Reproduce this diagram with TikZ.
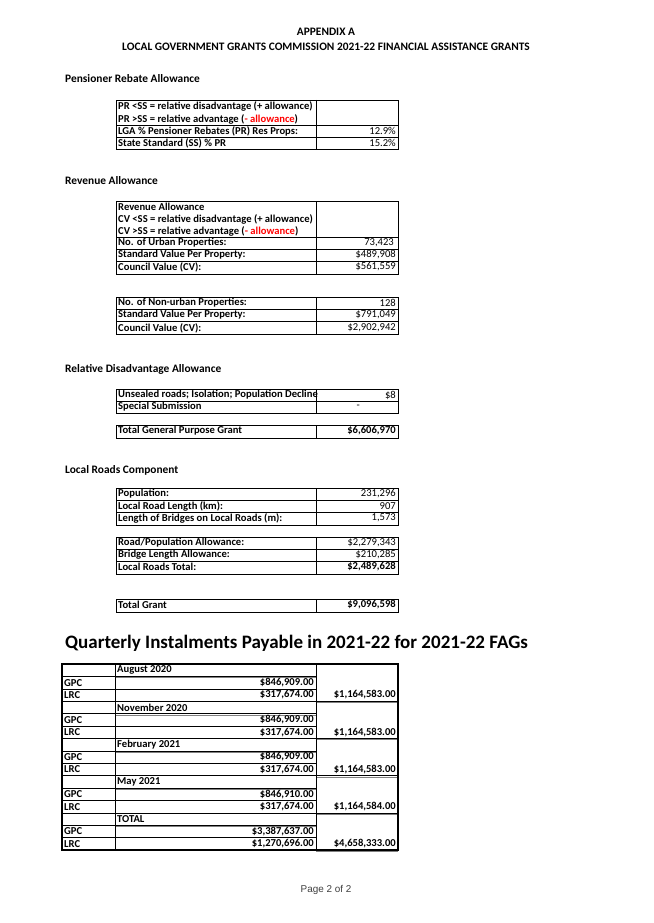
\documentclass[tikz,border=0pt]{standalone}
\usepackage{fontspec}
\setmainfont{Carlito}
\newfontfamily\arialf{Liberation Sans}
\begin{document}
\begin{tikzpicture}[x=1pt,y=-1pt,
  lab/.style={anchor=west,font=\fontsize{10.6}{11}\selectfont\bfseries,inner sep=0pt},
  val/.style={anchor=east,font=\fontsize{10.6}{11}\selectfont,inner sep=0pt},
  bval/.style={val,font=\fontsize{10.6}{11}\selectfont\bfseries},
  head/.style={anchor=west,font=\fontsize{11.4}{12}\selectfont\bfseries,inner sep=0pt},
  grid/.style={line width=0.6pt}]
\useasboundingbox[fill=white] (0,0) rectangle (653,923);
\node[font=\fontsize{11.4}{12}\selectfont\bfseries] (t1) at (326,32) {APPENDIX A};
\node[font=\fontsize{11.4}{12}\selectfont\bfseries] (t2) at (326,47) {LOCAL GOVERNMENT GRANTS COMMISSION 2021-22 FINANCIAL ASSISTANCE GRANTS};
% Pensioner
\node[head] (h1) at (65,79) {Pensioner Rebate Allowance};
\draw[grid] (116,100) rectangle (398,149) (316,100)--(316,149) (116,125)--(398,125) (116,137)--(398,137);
\node[lab] (p1) at (118,106) {PR <SS = relative disadvantage (+ allowance)};
\node[lab] (p2) at (118,119) {PR >SS = relative advantage (\textcolor{red}{- allowance})};
\node[lab] (p3) at (118,131) {LGA \% Pensioner Rebates (PR) Res Props:};
\node[val] (p3v) at (396,131) {12.9\%};
\node[lab] (p4) at (118,143) {State Standard (SS) \% PR};
\node[val] (p4v) at (396,143) {15.2\%};
% Revenue
\node[head] (h2) at (65,181) {Revenue Allowance};
\draw[grid] (116,201) rectangle (398,274) (316,201)--(316,274) (116,237)--(398,237) (116,249)--(398,249) (116,261)--(398,261);
\node[lab] (r1) at (118,207) {Revenue Allowance};
\node[lab] (r2) at (118,219) {CV <SS = relative disadvantage (+ allowance)};
\node[lab] (r3) at (118,231) {CV >SS = relative advantage (\textcolor{red}{- allowance})};
\node[lab] (r4) at (118,243) {No. of Urban Properties:};
\node[val] (r4v) at (394,243) {73,423};
\node[lab] (r5) at (118,255) {Standard Value Per Property:};
\node[val] (r5v) at (396,255) {\$489,908};
\node[lab] (r6) at (118,267) {Council Value (CV):};
\node[val] (r6v) at (396,267) {\$561,559};
\draw[grid] (116,297) rectangle (398,334) (316,297)--(316,334) (116,309)--(398,309) (116,321)--(398,321);
\node[lab] (n1) at (118,303) {No. of Non-urban Properties:};
\node[val] (n1v) at (396,303) {128};
\node[lab] (n2) at (118,315) {Standard Value Per Property:};
\node[val] (n2v) at (396,315) {\$791,049};
\node[lab] (n3) at (118,328) {Council Value (CV):};
\node[val] (n3v) at (396,328) {\$2,902,942};
% Relative disadvantage
\node[head] (h3) at (65,369) {Relative Disadvantage Allowance};
\draw[grid] (116,389) rectangle (398,413) (316,389)--(316,413) (116,401)--(398,401);
\node[lab] (d1) at (118,395) {Unsealed roads; Isolation; Population Decline};
\node[val] (d1v) at (396,395) {\$8};
\node[lab] (d2) at (118,407) {Special Submission};
\node[val] (d2v) at (360,407) {-};
\draw[grid] (116,425) rectangle (398,438) (316,425)--(316,438);
\draw[line width=1pt] (316,438)--(398,438);
\node[lab] (g1) at (118,431) {Total General Purpose Grant};
\node[bval] (g1v) at (396,431) {\$6,606,970};
% Local roads
\node[head] (h4) at (65,470) {Local Roads Component};
\draw[grid] (116,488) rectangle (398,525) (316,488)--(316,525) (116,500)--(398,500) (116,512)--(398,512);
\node[lab] (l1) at (118,494) {Population:};
\node[val] (l1v) at (396,494) {231,296};
\node[lab] (l2) at (118,506) {Local Road Length (km):};
\node[val] (l2v) at (396,506) {907};
\node[lab] (l3) at (118,518) {Length of Bridges on Local Roads (m):};
\node[val] (l3v) at (396,518) {1,573};
\draw[grid] (116,537) rectangle (398,574) (316,537)--(316,574) (116,549)--(398,549) (116,561)--(398,561);
\draw[line width=1pt] (316,574)--(398,574);
\node[lab] (l4) at (118,543) {Road/Population Allowance:};
\node[val] (l4v) at (396,543) {\$2,279,343};
\node[lab] (l5) at (118,555) {Bridge Length Allowance:};
\node[val] (l5v) at (396,555) {\$210,285};
\node[lab] (l6) at (118,567) {Local Roads Total:};
\node[bval] (l6v) at (396,567) {\$2,489,628};
\draw[grid] (116,599) rectangle (398,612) (316,599)--(316,612);
\draw[line width=1pt] (316,612)--(398,612);
\node[lab] (tg) at (118,605) {Total Grant};
\node[bval] (tgv) at (396,605) {\$9,096,598};
% Quarterly
\node[anchor=west,font=\fontsize{19}{21}\selectfont\bfseries,inner sep=0pt] (h5) at (65,643) {Quarterly Instalments Payable in 2021-22 for 2021-22 FAGs};
\foreach \i/\m/\g/\l/\t in {0/August 2020/{846,909.00}/{317,674.00}/{1,164,583.00},
  1/November 2020/{846,909.00}/{317,674.00}/{1,164,583.00},
  2/February 2021/{846,909.00}/{317,674.00}/{1,164,583.00},
  3/May 2021/{846,910.00}/{317,674.00}/{1,164,584.00},
  4/TOTAL/{3,387,637.00}/{1,270,696.00}/{4,658,333.00}}{
  \pgfmathsetmacro\yy{664+\i*37.2}
  \draw[grid] (62,\yy)--(398,\yy);
  \draw[grid] (62,\yy+12.4)--(316,\yy+12.4) (62,\yy+24.8)--(316,\yy+24.8);
  \draw[line width=0.4pt,gray] (115,\yy+13.6)--(316,\yy+13.6);
  \node[lab] (m\i) at (117,\yy+6.2) {\m};
  \node[lab] (gp\i) at (64,\yy+18.6) {GPC};
  \node[bval] (gv\i) at (314,\yy+18.6) {\$\g};
  \node[lab] (lr\i) at (64,\yy+31) {LRC};
  \node[bval] (lv\i) at (314,\yy+31) {\$\l};
  \node[bval] (tv\i) at (396,\yy+31) {\$\t};
  \draw[line width=0.4pt,gray] (316,\yy+38.4)--(398,\yy+38.4);
}
\draw[grid] (115,664)--(115,850) (316,664)--(316,850);
\draw[line width=1.4pt] (62,664) rectangle (398,850);
\node[font=\arialf\fontsize{9.9}{11}\selectfont,text=black!75] (pg) at (326,890) {Page 2 of 2};
\end{tikzpicture}
\end{document}
